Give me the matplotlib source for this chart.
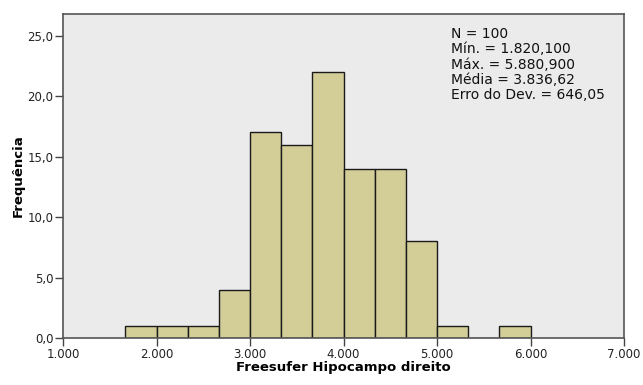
import matplotlib
matplotlib.use('Agg')
import matplotlib.pyplot as plt
from matplotlib.ticker import FuncFormatter

# histogram bins (width 1000/3) and frequencies
bin_start = 5000 / 3
bin_width = 1000 / 3
counts = [1, 1, 1, 4, 17, 16, 22, 14, 14, 8, 1, 0, 1]
x_ticks = [1000, 2000, 3000, 4000, 5000, 6000, 7000]
y_ticks = [0, 5, 10, 15, 20, 25]
stats_lines = ["N = 100", "Mín. = 1.820,100", "Máx. = 5.880,900",
               "Média = 3.836,62", "Erro do Dev. = 646,05"]

plt.rcParams['font.family'] = ['DejaVu Sans']

fig = plt.figure(figsize=(6.43, 3.85), dpi=100)
ax = fig.add_axes([63 / 643, 47 / 385, 561 / 643, 324 / 385])
ax.set_facecolor('#ebebeb')

lefts = [bin_start + i * bin_width for i in range(len(counts))]
ax.bar(lefts, counts, width=bin_width, align='edge', color='#d3ce98',
       edgecolor='#1a1a1a', linewidth=1.0, zorder=2)

ax.set_xlim(1000, 7000)
ax.set_ylim(0, 26.8)
ax.set_xticks(x_ticks)
ax.set_yticks(y_ticks)
ax.xaxis.set_major_formatter(FuncFormatter(lambda v, p: f"{int(v):,}".replace(',', '.')))
ax.yaxis.set_major_formatter(FuncFormatter(lambda v, p: f"{v:.1f}".replace('.', ',')))
ax.tick_params(direction='out', length=6, width=1, color='#444444',
               labelsize=8.5, labelcolor='#222222', pad=1)

for s in ax.spines.values():
    s.set_color('#555555')
    s.set_linewidth(1.2)

ax.set_xlabel("Freesufer Hipocampo direito", fontsize=9.5, fontweight='bold', labelpad=0)
ax.set_ylabel("Frequência", fontsize=9.5, fontweight='bold', labelpad=2)

ax.text(0.692, 0.96, "\n".join(stats_lines), transform=ax.transAxes,
        ha='left', va='top', fontsize=10, color='#111111', linespacing=1.12)

plt.savefig('out.png', dpi=100)
plt.close()
